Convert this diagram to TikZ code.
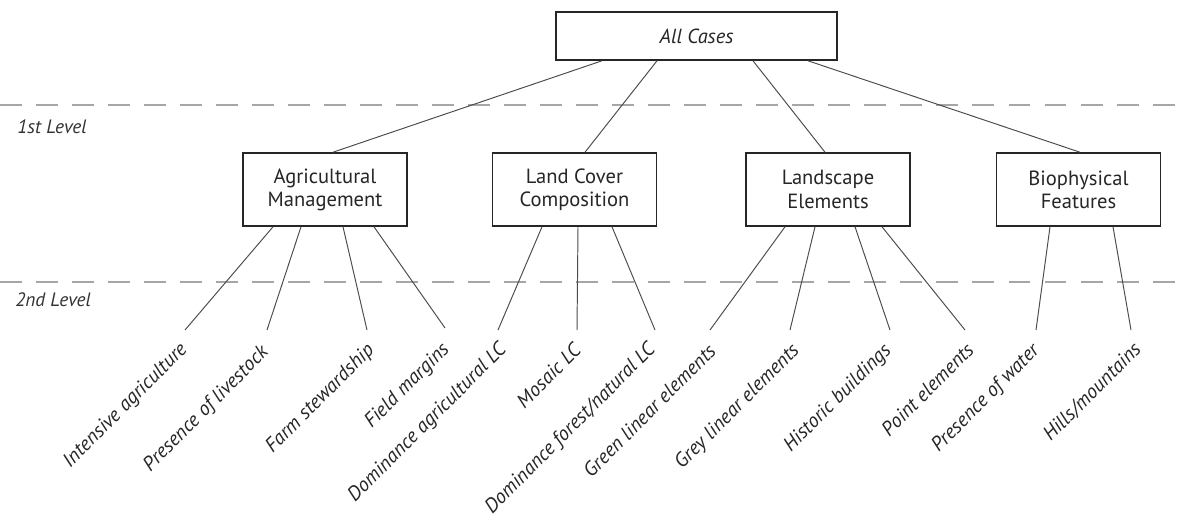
\documentclass[tikz,border=0pt]{standalone}
\usepackage{fontspec}
\setmainfont{PT Sans}
\usetikzlibrary{calc}
\begin{document}
\begin{tikzpicture}[x=0.02cm,y=-0.02cm,
  box/.style={draw=black!85,line width=0.9pt,minimum width=3.28cm,minimum height=1.46cm,align=center,inner sep=0pt,font=\fontsize{11.7}{13.2}\selectfont,text=black!85},
  topbox/.style={draw=black!85,line width=0.9pt,minimum width=5.62cm,minimum height=0.96cm,inner sep=0pt,font=\fontsize{11.6}{13}\selectfont\itshape,text=black!85},
  conn/.style={draw=black!70,line width=0.55pt},
  leaf/.style={rotate=45,anchor=north east,inner sep=0pt,font=\fontsize{11.4}{13}\selectfont\itshape,text=black!85},
  lvl/.style={anchor=west,inner sep=0pt,font=\fontsize{11}{12}\selectfont\itshape,text=black!80},
  sep/.style={draw=black!35,line width=1.1pt,dash pattern=on 12.5pt off 8pt}
]
\fill[white] (0,0) rectangle (1179,518);
\useasboundingbox (0,0) rectangle (1179,518);

% level separators
\draw[sep] (0,105) -- (1179,105);
\draw[sep] (0,282) -- (1179,282);
\node[lvl] (lv1) at (17,127) {1st Level};
\node[lvl] (lv2) at (15,300) {2nd Level};

% boxes
\node[topbox] (all) at (696.5,36) {All Cases};
\node[box] (agri) at (325,189.5) {Agricultural\\Management};
\node[box] (lc) at (574.5,189.5) {Land Cover\\Composition};
\node[box] (le) at (828,189.5) {Landscape\\Elements};
\node[box] (bf) at (1078.5,189.5) {Biophysical\\Features};

% first level connectors
\draw[conn] ($(all.south)+(-94.5,0)$) -- ($(agri.north)+(8,0)$);
\draw[conn] ($(all.south)+(-39.5,0)$) -- ($(lc.north)+(10.5,0)$);
\draw[conn] ($(all.south)+(56.5,0)$) -- ($(le.north)+(-3,0)$);
\draw[conn] ($(all.south)+(111.5,0)$) -- ($(bf.north)+(1.5,0)$);

% leaf end coordinates
\coordinate (c1) at (185,330);
\coordinate (c2) at (267,330);
\coordinate (c3) at (367,330);
\coordinate (c4) at (445,328);
\coordinate (c5) at (498,330);
\coordinate (c6) at (577,330);
\coordinate (c7) at (655,330);
\coordinate (c8) at (710,330);
\coordinate (c9) at (790,330);
\coordinate (c10) at (890,330);
\coordinate (c11) at (965,330);
\coordinate (c12) at (1036,330);
\coordinate (c13) at (1131,330);

% second level connectors
\draw[conn] ($(agri.south)+(-52,0)$) -- (c1);
\draw[conn] ($(agri.south)+(-24,0)$) -- (c2);
\draw[conn] ($(agri.south)+(18,0)$) -- (c3);
\draw[conn] ($(agri.south)+(49,0)$) -- (c4);
\draw[conn] ($(lc.south)+(-32.5,0)$) -- (c5);
\draw[conn] ($(lc.south)+(3.5,0)$) -- (c6);
\draw[conn] ($(lc.south)+(37.5,0)$) -- (c7);
\draw[conn] ($(le.south)+(-43,0)$) -- (c8);
\draw[conn] ($(le.south)+(-13,0)$) -- (c9);
\draw[conn] ($(le.south)+(27,0)$) -- (c10);
\draw[conn] ($(le.south)+(54,0)$) -- (c11);
\draw[conn] ($(bf.south)+(-28.5,0)$) -- (c12);
\draw[conn] ($(bf.south)+(34.5,0)$) -- (c13);

% leaf labels
\node[leaf] (t1) at (178,340) {Intensive agriculture};
\node[leaf] (t2) at (259,343) {Presence of livestock};
\node[leaf] (t3) at (365,341) {Farm stewardship};
\node[leaf] (t4) at (440,340) {Field margins};
\node[leaf] (t5) at (497,340) {Dominance agricultural LC};
\node[leaf] (t6) at (572,341) {Mosaic LC};
\node[leaf] (t7) at (646,340) {Dominance forest/natural LC};
\node[leaf] (t8) at (707,342) {Green linear elements};
\node[leaf] (t9) at (790,341) {Grey linear elements};
\node[leaf] (t10) at (882,341) {Historic buildings};
\node[leaf] (t11) at (965,341) {Point elements};
\node[leaf] (t12) at (1030,341) {Presence of water};
\node[leaf] (t13) at (1132,340) {Hills/mountains};
\end{tikzpicture}
\end{document}
